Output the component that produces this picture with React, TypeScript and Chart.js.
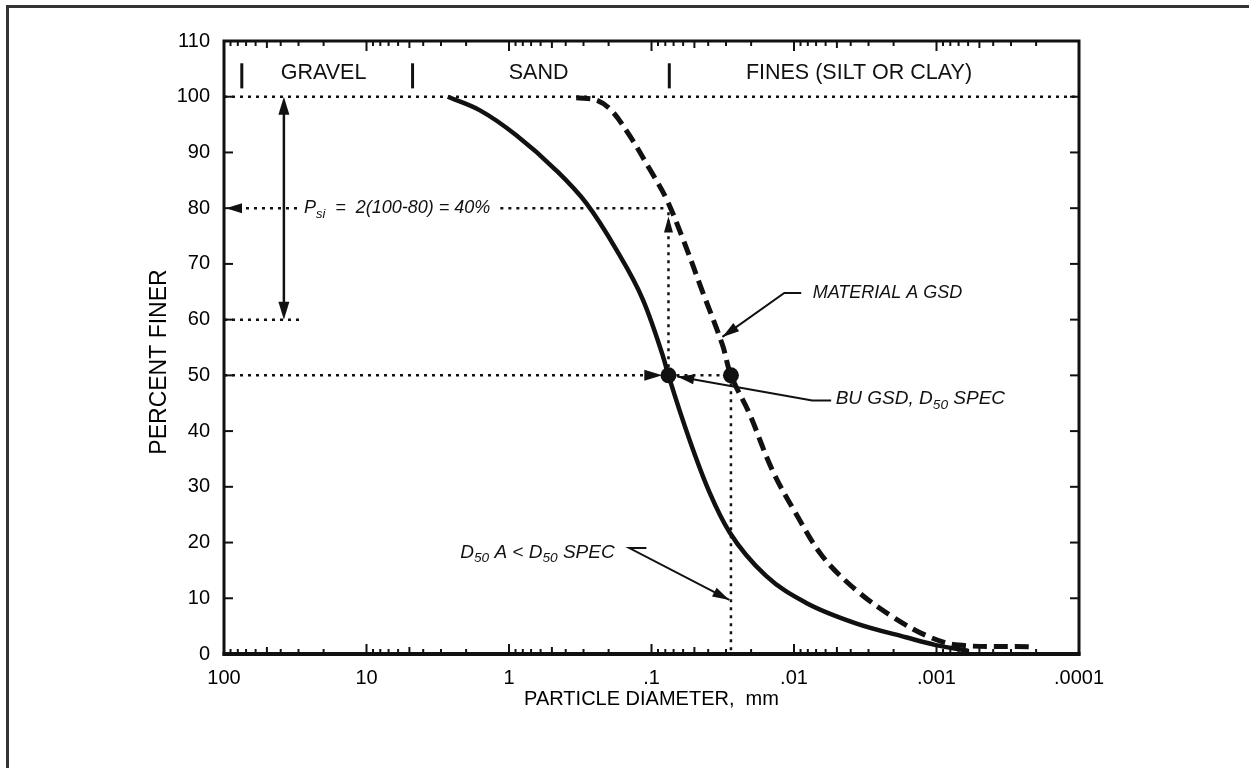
import React, { useEffect, useRef } from 'react';
import { Chart, registerables } from 'chart.js';

Chart.register(...registerables);

// ---- data ----
const xTickValues = [100, 10, 1, 0.1, 0.01, 0.001, 0.0001];
const xTickLabels = ['100', '10', '1', '.1', '.01', '.001', '.0001'];
const minorMultipliers = [2, 3, 4, 5, 6, 7, 8, 9];

// BU GSD (solid)
const buDiameter = [2.69, 1.61, 0.889, 0.467, 0.287, 0.177, 0.115, 0.0835, 0.076, 0.0542, 0.0393, 0.0284, 0.0157, 0.00826, 0.00368, 0.00164, 0.00101, 0.0006];
const buPercent = [100, 97.6, 93.1, 86.8, 80.9, 72.6, 63.6, 53.6, 50, 38.5, 29.1, 21.9, 14.0, 9.2, 5.5, 3.0, 1.6, 0.6];

// Material A GSD (dashed)
const matDiameter = [0.337, 0.244, 0.192, 0.143, 0.1035, 0.079, 0.0604, 0.0438, 0.0317, 0.0277, 0.0206, 0.0142, 0.0097, 0.0063, 0.00368, 0.00204, 0.00113, 0.0007, 0.000214];
const matPercent = [99.8, 99.4, 97.6, 93.1, 87.1, 81.8, 74.6, 65.0, 55.4, 50, 43.2, 33.0, 25.2, 17.5, 11.5, 6.7, 3.1, 1.6, 1.3];

// D50 points
const d50Diameter = [0.076, 0.0277];
const d50Percent = [50, 50];

// soil class boundaries (mm) and labels
const zoneBounds = [75, 4.75, 0.075];
const zoneLabels = ['GRAVEL', 'SAND', 'FINES (SILT OR CLAY)'];
const zoneLabelAt = [20, 0.62, 0.0035];

const FAM = '"Liberation Sans", Arial, Helvetica, sans-serif';
const INK = '#111';

type Part = [string, boolean];

function drawRich(ctx: CanvasRenderingContext2D, x: number, y: number, parts: Part[], size: number) {
  let cx = x;
  ctx.textAlign = 'left';
  ctx.textBaseline = 'middle';
  for (const [t, sub] of parts) {
    const s = sub ? size * 0.72 : size;
    ctx.font = `italic ${s}px ${FAM}`;
    ctx.fillText(t, cx, sub ? y + size * 0.32 : y);
    cx += ctx.measureText(t).width;
  }
  return cx - x;
}

function arrowHead(ctx: CanvasRenderingContext2D, tx: number, ty: number, fx: number, fy: number, len = 15, half = 4.5) {
  const a = Math.atan2(ty - fy, tx - fx);
  ctx.beginPath();
  ctx.moveTo(tx, ty);
  ctx.lineTo(tx - len * Math.cos(a) + half * Math.sin(a), ty - len * Math.sin(a) - half * Math.cos(a));
  ctx.lineTo(tx - len * Math.cos(a) - half * Math.sin(a), ty - len * Math.sin(a) + half * Math.cos(a));
  ctx.closePath();
  ctx.fill();
}

const annotationPlugin = {
  id: 'gsdAnnotations',
  beforeDatasetsDraw(chart: any) {
    const { ctx, chartArea: ca, scales } = chart;
    const X = (v: number) => scales.x.getPixelForValue(v);
    const Y = (v: number) => scales.y.getPixelForValue(v);
    ctx.save();
    ctx.strokeStyle = INK;
    ctx.fillStyle = INK;
    const dotted = (x1: number, y1: number, x2: number, y2: number) => {
      ctx.save();
      ctx.setLineDash([3, 5]);
      ctx.lineWidth = 2.5;
      ctx.beginPath();
      ctx.moveTo(x1, y1);
      ctx.lineTo(x2, y2);
      ctx.stroke();
      ctx.restore();
    };
    // y-axis title
    ctx.save();
    ctx.translate(160, Y(52.4));
    ctx.rotate(-Math.PI / 2);
    ctx.font = `23px ${FAM}`;
    ctx.textAlign = 'center';
    ctx.textBaseline = 'middle';
    ctx.fillStyle = '#000';
    ctx.fillText('PERCENT FINER', 0, 0);
    ctx.restore();
    // 100 % line
    dotted(ca.left, Y(100), ca.right, Y(100));
    // 60 % line
    dotted(ca.left, Y(60), X(29), Y(60));
    // 80 % line with text gap
    const textX = X(27.5);
    const psiParts: Part[] = [['P', false], ['si', true], ['  =  2(100-80) = 40%', false]];
    let w = 0;
    for (const [t, sub] of psiParts) {
      ctx.font = `italic ${sub ? 18 * 0.72 : 18}px ${FAM}`;
      w += ctx.measureText(t).width;
    }
    dotted(ca.left + 14, Y(80), textX - 4, Y(80));
    dotted(textX + w + 10, Y(80), X(0.075), Y(80));
    drawRich(ctx, textX, Y(80), psiParts, 18);
    arrowHead(ctx, ca.left + 2, Y(80), ca.left + 20, Y(80), 16, 5);
    // 50 % line to the BU dot
    dotted(ca.left, Y(50), X(0.084) - 12, Y(50));
    arrowHead(ctx, X(0.084), Y(50), X(0.084) - 20, Y(50), 18, 5.5);
    // between dots
    dotted(X(0.076), Y(50), X(0.0277), Y(50));
    // vertical from BU dot to 80 (arrow up)
    dotted(X(0.076), Y(50), X(0.076), Y(80));
    arrowHead(ctx, X(0.076), Y(78.5), X(0.076), Y(70), 16, 4.5);
    // vertical from material A dot to 0
    dotted(X(0.0277), Y(50), X(0.0277), Y(0));
    // zone separators and labels
    ctx.lineWidth = 3;
    ctx.setLineDash([]);
    for (const b of zoneBounds) {
      ctx.beginPath();
      ctx.moveTo(X(b), Y(101.5));
      ctx.lineTo(X(b), Y(106));
      ctx.stroke();
    }
    ctx.font = `21.5px ${FAM}`;
    ctx.textAlign = 'center';
    ctx.textBaseline = 'middle';
    zoneLabels.forEach((t, i) => ctx.fillText(t, X(zoneLabelAt[i]), Y(104.3)));
    // double arrow 100 -> 60
    const ax = X(38);
    ctx.lineWidth = 2.5;
    ctx.beginPath();
    ctx.moveTo(ax, Y(100) + 12);
    ctx.lineTo(ax, Y(60) - 12);
    ctx.stroke();
    arrowHead(ctx, ax, Y(100), ax, Y(90), 18, 5.5);
    arrowHead(ctx, ax, Y(60), ax, Y(70), 18, 5.5);
    ctx.restore();
  },
  afterDatasetsDraw(chart: any) {
    const { ctx, chartArea: ca, scales } = chart;
    const X = (v: number) => scales.x.getPixelForValue(v);
    const Y = (v: number) => scales.y.getPixelForValue(v);
    ctx.save();
    ctx.strokeStyle = INK;
    ctx.fillStyle = INK;
    ctx.setLineDash([]);
    const leader = (pts: [number, number][], tip: [number, number]) => {
      ctx.lineWidth = 2;
      ctx.beginPath();
      ctx.moveTo(X(pts[0][0]), Y(pts[0][1]));
      for (let i = 1; i < pts.length; i++) ctx.lineTo(X(pts[i][0]), Y(pts[i][1]));
      ctx.lineTo(X(tip[0]), Y(tip[1]));
      ctx.stroke();
      const last = pts[pts.length - 1];
      arrowHead(ctx, X(tip[0]), Y(tip[1]), X(last[0]), Y(last[1]), 17, 5);
    };
    // MATERIAL A GSD
    leader([[0.0089, 64.8], [0.0117, 64.8]], [0.0318, 56.9]);
    drawRich(ctx, X(0.0074), Y(64.8), [['MATERIAL A GSD', false]], 18);
    // BU GSD, D50 SPEC
    leader([[0.00549, 45.5], [0.00745, 45.5]], [0.066, 49.8]);
    drawRich(ctx, X(0.0051), Y(45.8), [['BU GSD, D', false], ['50', true], [' SPEC', false]], 19);
    // D50 A < D50 SPEC
    leader([[0.1086, 19], [0.143, 19]], [0.0284, 9.7]);
    drawRich(ctx, X(2.2), Y(18.2), [['D', false], ['50', true], [' A < D', false], ['50', true], [' SPEC', false]], 19);

    // frame + ticks
    ctx.lineWidth = 3;
    ctx.strokeRect(ca.left, ca.top, ca.right - ca.left, ca.bottom - ca.top);
    ctx.lineWidth = 4;
    ctx.beginPath();
    ctx.moveTo(ca.left - 1.5, ca.bottom);
    ctx.lineTo(ca.right + 1.5, ca.bottom);
    ctx.stroke();
    ctx.lineWidth = 2;
    const tick = (x1: number, y1: number, x2: number, y2: number) => {
      ctx.beginPath();
      ctx.moveTo(x1, y1);
      ctx.lineTo(x2, y2);
      ctx.stroke();
    };
    for (const d of xTickValues) {
      const x = X(d);
      tick(x, ca.bottom, x, ca.bottom - 10);
      tick(x, ca.top, x, ca.top + 10);
      if (d >= 0.001) {
        for (const m of minorMultipliers) {
          const xm = X(d * m / 10);
          const len = m === 5 ? 7 : 5;
          tick(xm, ca.bottom, xm, ca.bottom - len);
          tick(xm, ca.top, xm, ca.top + len);
        }
      }
    }
    for (let p = 10; p <= 100; p += 10) {
      tick(ca.left, Y(p), ca.left + 9, Y(p));
      tick(ca.right, Y(p), ca.right - 9, Y(p));
    }
    ctx.restore();
  },
};

export default function App() {
  const ref = useRef<HTMLCanvasElement>(null);
  useEffect(() => {
    const canvas = ref.current;
    if (!canvas) return;
    const chart = new Chart(canvas, {
      type: 'line',
      data: {
        datasets: [
          {
            label: 'BU GSD',
            data: buDiameter.map((d, i) => ({ x: d, y: buPercent[i] })),
            borderColor: INK,
            borderWidth: 4.5,
            pointRadius: 0,
            cubicInterpolationMode: 'monotone',
            fill: false,
          },
          {
            label: 'Material A GSD',
            data: matDiameter.map((d, i) => ({ x: d, y: matPercent[i] })),
            borderColor: INK,
            borderWidth: 5,
            borderDash: [14, 7],
            pointRadius: 0,
            tension: 0.35,
            fill: false,
          },
          {
            label: 'D50',
            data: d50Diameter.map((d, i) => ({ x: d, y: d50Percent[i] })),
            showLine: false,
            pointRadius: 8,
            pointBackgroundColor: INK,
            pointBorderWidth: 0,
            borderColor: INK,
          },
        ],
      } as any,
      options: {
        responsive: false,
        animation: false,
        layout: { padding: { left: 0, top: 41, right: 170, bottom: 0 } },
        plugins: { legend: { display: false }, tooltip: { enabled: false } },
        scales: {
          x: {
            type: 'logarithmic',
            reverse: true,
            min: 0.0001,
            max: 100,
            afterBuildTicks: (s: any) => {
              s.ticks = xTickValues.map((v) => ({ value: v }));
            },
            afterFit: (s: any) => {
              s.height = 114;
            },
            ticks: {
              autoSkip: false,
              maxRotation: 0,
              padding: 12,
              color: '#000',
              font: { size: 20, family: FAM },
              callback: (v: any) => {
                const i = xTickValues.findIndex((t) => Math.abs(t - v) / t < 1e-6);
                return i >= 0 ? xTickLabels[i] : '';
              },
            },
            grid: { display: false, drawTicks: false },
            border: { display: false },
            title: {
              display: true,
              text: 'PARTICLE DIAMETER,  mm',
              color: '#000',
              font: { size: 20, family: FAM },
              padding: { top: 0, bottom: 57 },
            },
          },
          y: {
            min: 0,
            max: 110,
            afterFit: (s: any) => {
              s.width = 224;
            },
            ticks: {
              stepSize: 10,
              padding: 14,
              color: '#000',
              font: { size: 20, family: FAM },
            },
            grid: { display: false, drawTicks: false },
            border: { display: false },
            title: { display: false },
          },
        },
      } as any,
      plugins: [annotationPlugin],
    });
    return () => chart.destroy();
  }, []);
  return (
    <div style={{ position: 'fixed', left: 0, top: 0, width: 1249, height: 768, background: '#fff', overflow: 'hidden' }}>
      <div
        style={{
          position: 'absolute',
          left: 6,
          top: 5,
          width: 1300,
          height: 800,
          borderTop: '3px solid #333',
          borderLeft: '3px solid #333',
        }}
      />
      <canvas ref={ref} width={1249} height={768} style={{ position: 'absolute', left: 0, top: 0, width: 1249, height: 768 }} />
    </div>
  );
}
